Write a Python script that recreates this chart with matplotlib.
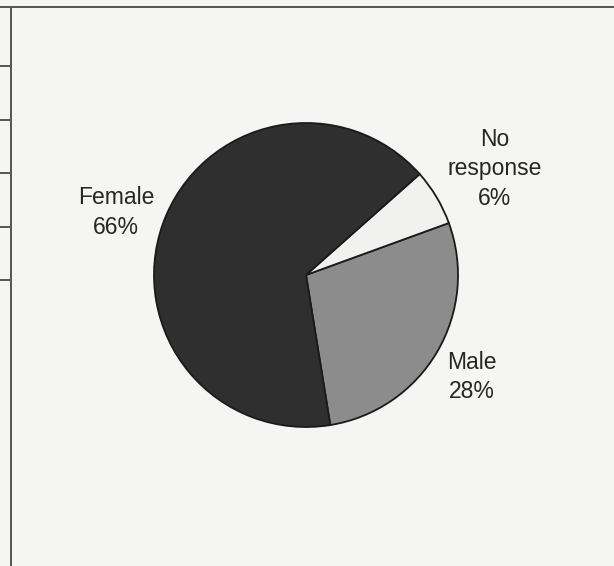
import matplotlib.pyplot as plt
from matplotlib.lines import Line2D

# Survey respondents by gender
categories = ["Male", "No response", "Female"]
shares = [28, 6, 66]
slice_colors = ["#8c8c8c", "#f1f1f0", "#2f2f2f"]

plt.rcParams["font.family"] = ["Liberation Sans", "DejaVu Sans"]

fig = plt.figure(figsize=(6.14, 5.66), dpi=100)
fig.patch.set_facecolor("#f5f5f3")

# table rules along the top and left edge
W, H = 614, 566
line_kw = dict(color="#555555", linewidth=1.4)
fig.add_artist(Line2D([0, 1], [1 - 7 / H, 1 - 7 / H], **line_kw))
fig.add_artist(Line2D([11 / W, 11 / W], [0, 1 - 7 / H], **line_kw))
for y in [66, 120, 173, 227, 280]:
    fig.add_artist(Line2D([0, 11 / W], [1 - y / H, 1 - y / H], **line_kw))

# pie centred at (306, 275) px with radius 152 px
cx, cy, r = 306, 275, 152
ax = fig.add_axes([(cx - r) / W, (H - cy - r) / H, 2 * r / W, 2 * r / H])
ax.pie(shares, colors=slice_colors, startangle=-80.8, counterclock=True,
       wedgeprops=dict(edgecolor="#1a1a1a", linewidth=1.3))
ax.set_xlim(-1, 1)
ax.set_ylim(-1, 1)
ax.axis("off")

label_pos = {"Male": (1.09, -0.67), "No response": (1.24, 0.70), "Female": (-1.25, 0.41)}
label_text = {"No response": "No\nresponse"}
for name, val in zip(categories, shares):
    x, y = label_pos[name]
    ax.text(x, y, f"{label_text.get(name, name)}\n{val}%", ha="center", va="center",
            fontsize=16.5, color="#262626", linespacing=1.36, clip_on=False)

fig.savefig("out.png", dpi=100, facecolor=fig.get_facecolor())
